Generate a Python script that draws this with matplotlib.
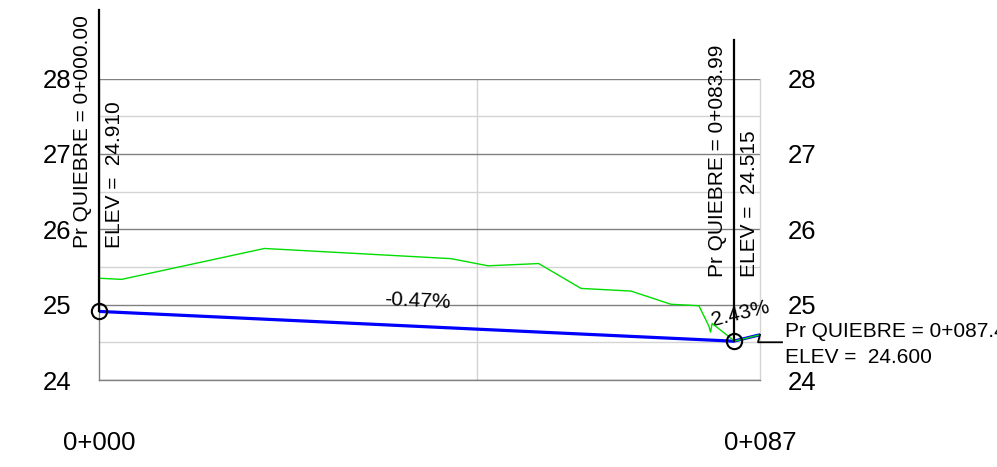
import numpy as np
import matplotlib
matplotlib.use("Agg")
import matplotlib.pyplot as plt
from matplotlib.transforms import offset_copy
from matplotlib.lines import Line2D

plt.rcParams['font.family'] = ['Liberation Sans', 'DejaVu Sans']

# ---- data ----
ground_sta = [0.0, 3.0, 21.9, 46.6, 51.5, 58.2, 63.8, 70.4, 75.7, 79.4, 80.7, 80.95, 81.15, 83.7, 84.1, 87.49]
ground_elev = [25.35, 25.335, 25.745, 25.61, 25.515, 25.545, 25.215, 25.18, 25.005, 24.985, 24.72, 24.635, 24.75, 24.55, 24.515, 24.60]

pvi_sta = [0.0, 83.99, 87.49]
pvi_elev = [24.910, 24.515, 24.600]
pvi_sta_labels = ["0+000.00", "0+083.99", "0+087.49"]
pvi_elev_labels = ["24.910", "24.515", "24.600"]

x_ticks = [0.0, 87.49]
x_tick_labels = ["0+000", "0+087"]
y_ticks = [24, 25, 26, 27, 28]
y_minor = [24.5, 25.5, 26.5, 27.5]
x_minor = [50]

fig = plt.figure(figsize=(9.97, 4.67), dpi=100)
ax = fig.add_axes([99/997, 87/467, 661/997, 301.5/467])
ax.set_xlim(0, 87.49)
ax.set_ylim(24, 28)

# grid
ax.set_yticks(y_ticks)
ax.set_yticks(y_minor, minor=True)
ax.set_xticks(x_ticks)
ax.set_xticklabels(x_tick_labels)
ax.set_xticks(x_minor, minor=True)
ax.grid(axis='y', which='major', color='#808080', lw=1.0)
ax.grid(axis='both', which='minor', color='#d4d4d4', lw=1.0)
ax.set_axisbelow(True)

ax.spines['top'].set_visible(False)
ax.spines['left'].set_color('#808080')
ax.spines['bottom'].set_color('#808080')
ax.spines['right'].set_color('#d4d4d4')
for s in ['left', 'bottom', 'right']:
    ax.spines[s].set_linewidth(1.0)

ax.tick_params(axis='y', which='both', left=False, right=False, labelleft=True, labelright=True,
               length=0, pad=19.7, labelsize=18.5)
ax.tick_params(axis='x', which='both', bottom=False, top=False, length=0, pad=37, labelsize=18.5)

# profile and ground
ax.plot(pvi_sta, pvi_elev, color='#0000ff', lw=2.3, zorder=3, solid_capstyle='butt')
ax.plot(ground_sta, ground_elev, color='#00dd00', lw=1.0, zorder=4)

# PVI markers
ax.plot(pvi_sta[:2], pvi_elev[:2], 'o', ms=11, mfc='none', mec='black', mew=1.5, zorder=5, clip_on=False)

fs = 15
for i in range(2):
    s, e = pvi_sta[i], pvi_elev[i]
    ax.plot([s, s], [e, e + 4.0], color='black', lw=1.6, zorder=5, clip_on=False)
    t1 = offset_copy(ax.transData, fig=fig, x=-7.6, y=46, units='points')
    ax.text(s, e, "Pr QUIEBRE = " + pvi_sta_labels[i], transform=t1, rotation=90,
            rotation_mode='anchor', ha='left', va='baseline', fontsize=fs, clip_on=False)
    t2 = offset_copy(ax.transData, fig=fig, x=15.2, y=46, units='points')
    ax.text(s, e, "ELEV =  " + pvi_elev_labels[i], transform=t2, rotation=90,
            rotation_mode='anchor', ha='left', va='baseline', fontsize=fs, clip_on=False)

# grade labels
for i in range(2):
    x0, x1 = pvi_sta[i], pvi_sta[i + 1]
    y0, y1 = pvi_elev[i], pvi_elev[i + 1]
    g = (y1 - y0) / (x1 - x0) * 100
    p0 = ax.transData.transform((x0, y0))
    p1 = ax.transData.transform((x1, y1))
    ang = np.degrees(np.arctan2(p1[1] - p0[1], p1[0] - p0[0]))
    d = 14.0
    dx = -np.sin(np.radians(ang)) * d
    dy = np.cos(np.radians(ang)) * d
    ax.annotate(f"{g:.2f}%", xy=((x0 + x1) / 2, (y0 + y1) / 2), xytext=(dx, dy),
                textcoords='offset points', rotation=ang, rotation_mode='anchor',
                ha='center', va='baseline', fontsize=fs, annotation_clip=False)

# end label with leader
s, e = pvi_sta[2], pvi_elev[2]
base = ax.transData.transform((s, e))
pts_px = np.array([[0, 0], [-2, -7.5], [22, -7.5]]) + base
ln = Line2D(pts_px[:, 0], pts_px[:, 1], color='black', lw=1.3, transform=None, zorder=5)
fig.add_artist(ln)
t3 = offset_copy(ax.transData, fig=fig, x=18, y=-1.5, units='points')
ax.text(s, e, "Pr QUIEBRE = " + pvi_sta_labels[2], transform=t3, ha='left', va='baseline',
        fontsize=fs, clip_on=False)
t4 = offset_copy(ax.transData, fig=fig, x=18, y=-20.3, units='points')
ax.text(s, e, "ELEV =  " + pvi_elev_labels[2], transform=t4, ha='left', va='baseline',
        fontsize=fs, clip_on=False)

fig.savefig("out.png", dpi=100)
